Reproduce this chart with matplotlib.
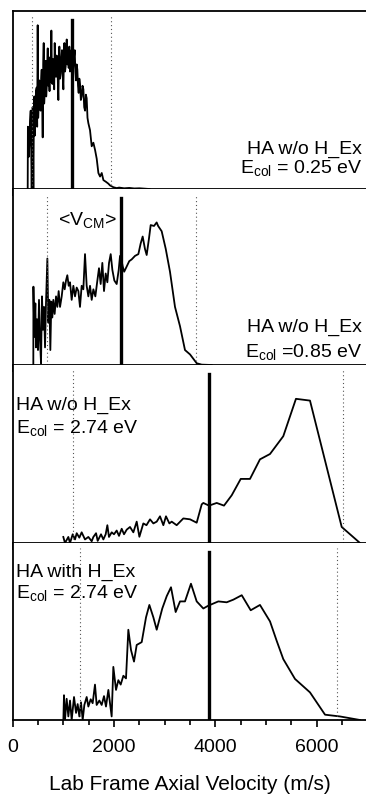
import matplotlib
matplotlib.use("Agg")
from matplotlib import pyplot as plt

plt.rcParams['font.family'] = ['Liberation Sans', 'DejaVu Sans']
plt.rcParams['mathtext.fontset'] = 'custom'
plt.rcParams['mathtext.rm'] = 'Liberation Sans'
plt.rcParams['mathtext.it'] = 'Liberation Sans:italic'

# panel 1: HA w/o H_Ex, Ecol = 0.25 eV
v1 = [296, 300, 315, 329, 342, 355, 375, 385, 394, 408, 418, 427, 437, 447, 460, 473,
      483, 493, 503, 513, 526, 539, 552, 562, 572, 582, 592, 602, 612, 621, 631, 641,
      651, 661, 671, 681, 691, 704, 717, 727, 737, 750, 763, 773, 783, 796, 809, 819,
      829, 842, 855, 868, 881, 891, 901, 911, 921, 934, 947, 960, 973, 986, 1000,
      1010, 1020, 1033, 1046, 1056, 1066, 1079, 1092, 1105, 1118, 1131, 1145, 1158,
      1171, 1184, 1197, 1210, 1224, 1237, 1250, 1263, 1276, 1289, 1302, 1315, 1329,
      1345, 1362, 1378, 1395, 1411, 1428, 1444, 1460, 1476, 1493, 1526, 1559, 1592,
      1625, 1658, 1691, 1724, 1757, 1790, 1842, 1888, 1921, 1987, 2053, 2100, 2200,
      2300, 2400, 2500, 2600, 2700]
i1 = [0.0, 0.35, 0.18, 0.25, 0.38, 0.44, 0.0, 0.30, 0.46, 0.0, 0.40, 0.52, 0.30, 0.39,
      0.55, 0.57, 0.35, 0.92, 0.40, 0.48, 0.61, 0.45, 0.44, 0.62, 0.67, 0.50, 0.29,
      0.70, 0.82, 0.48, 0.54, 0.66, 0.72, 0.52, 0.57, 0.70, 0.79, 0.58, 0.63, 0.55,
      0.74, 0.60, 0.89, 0.66, 0.59, 0.73, 0.69, 0.56, 0.82, 0.65, 0.63, 0.75, 0.72,
      0.60, 0.50, 0.70, 0.80, 0.62, 0.65, 0.74, 0.78, 0.64, 0.56, 0.72, 0.82, 0.66,
      0.69, 0.77, 0.84, 0.70, 0.76, 0.68, 0.80, 0.66, 0.72, 0.78, 0.75, 0.64, 0.69,
      0.74, 0.78, 0.66, 0.61, 0.70, 0.67, 0.58, 0.54, 0.62, 0.59, 0.50, 0.52, 0.58,
      0.56, 0.46, 0.44, 0.53, 0.51, 0.40, 0.37, 0.33, 0.24, 0.26, 0.22, 0.17, 0.09,
      0.07, 0.09, 0.05, 0.04, 0.03, 0.02, 0.01, 0.005, 0.008, 0.004, 0.006, 0.003,
      0.004, 0.002, 0.0]

# panel 2: HA w/o H_Ex, Ecol = 0.85 eV
v2 = [407, 409, 427, 447, 460, 480, 499, 519, 539, 559, 578, 598, 618, 638, 657, 684,
      703, 723, 743, 762, 782, 802, 828, 855, 881, 907, 934, 967, 999, 1026, 1052,
      1078, 1105, 1131, 1164, 1197, 1230, 1263, 1296, 1328, 1361, 1394, 1427, 1460,
      1493, 1526, 1559, 1592, 1631, 1671, 1703, 1736, 1769, 1802, 1835, 1868, 1901,
      1934, 1967, 2006, 2052, 2092, 2118, 2151, 2171, 2200, 2250, 2300, 2348, 2414,
      2480, 2525, 2565, 2610, 2644, 2690, 2723, 2789, 2841, 2870, 2940, 3020, 3104,
      3203, 3302, 3400, 3500, 3631, 3730, 3927]
i2 = [0.0, 0.445, 0.16, 0.35, 0.10, 0.26, 0.085, 0.37, 0.14, 0.01, 0.39, 0.20, 0.33,
      0.10, 0.35, 0.605, 0.24, 0.37, 0.085, 0.36, 0.27, 0.37, 0.29, 0.39, 0.33, 0.42,
      0.33, 0.39, 0.47, 0.43, 0.48, 0.51, 0.45, 0.47, 0.37, 0.45, 0.39, 0.44, 0.42,
      0.33, 0.45, 0.43, 0.63, 0.45, 0.39, 0.45, 0.37, 0.43, 0.39, 0.48, 0.55, 0.46,
      0.58, 0.42, 0.52, 0.47, 0.58, 0.63, 0.54, 0.48, 0.46, 0.54, 0.62, 0.59, 0.56,
      0.53, 0.56, 0.59, 0.60, 0.62, 0.63, 0.69, 0.73, 0.66, 0.625, 0.72, 0.795, 0.79,
      0.81, 0.79, 0.76, 0.66, 0.53, 0.33, 0.22, 0.085, 0.06, 0.01, 0.002, 0.0]

# panel 3: HA w/o H_Ex, Ecol = 2.74 eV
v3 = [999, 1032, 1098, 1131, 1184, 1230, 1263, 1315, 1361, 1427, 1493, 1559, 1592,
      1645, 1677, 1743, 1789, 1835, 1868, 1900, 1954, 1999, 2052, 2098, 2151, 2197,
      2250, 2315, 2381, 2447, 2500, 2578, 2640, 2710, 2776, 2842, 2907, 2973, 3025,
      3092, 3138, 3236, 3367, 3500, 3631, 3730, 3762, 3874, 4026, 4170, 4322, 4500,
      4683, 4880, 5078, 5340, 5590, 5867, 6493, 6854]
i3 = [0.034, 0.0, 0.034, 0.0, 0.049, 0.02, 0.055, 0.03, 0.06, 0.02, 0.034, 0.01,
      0.034, 0.055, 0.012, 0.049, 0.02, 0.049, 0.10, 0.034, 0.06, 0.049, 0.07, 0.04,
      0.08, 0.049, 0.075, 0.09, 0.06, 0.12, 0.035, 0.11, 0.10, 0.133, 0.11, 0.12,
      0.15, 0.10, 0.15, 0.11, 0.12, 0.10, 0.138, 0.133, 0.114, 0.217, 0.225, 0.21,
      0.225, 0.21, 0.268, 0.36, 0.36, 0.47, 0.50, 0.60, 0.81, 0.80, 0.09, 0.0]

# panel 4: HA with H_Ex, Ecol = 2.74 eV
v4 = [1000, 1012, 1032, 1065, 1098, 1131, 1164, 1210, 1250, 1282, 1315, 1348, 1381,
      1414, 1460, 1493, 1539, 1578, 1624, 1657, 1710, 1756, 1802, 1841, 1888, 1920,
      1953, 1986, 2039, 2085, 2131, 2184, 2236, 2282, 2335, 2394, 2447, 2546, 2631,
      2697, 2776, 2842, 2952, 3040, 3124, 3216, 3302, 3400, 3518, 3631, 3762, 3861,
      4058, 4223, 4355, 4520, 4697, 4880, 5078, 5210, 5340, 5571, 5867, 6164, 6460,
      6854]
i4 = [0.0, 0.14, 0.0, 0.12, 0.02, 0.11, 0.0, 0.13, 0.04, 0.09, 0.02, 0.10, 0.0,
      0.085, 0.13, 0.076, 0.117, 0.095, 0.20, 0.085, 0.11, 0.085, 0.135, 0.076, 0.17,
      0.095, 0.02, 0.30, 0.17, 0.225, 0.20, 0.25, 0.235, 0.51, 0.395, 0.33, 0.424,
      0.44, 0.58, 0.65, 0.58, 0.51, 0.63, 0.70, 0.75, 0.61, 0.67, 0.67, 0.77, 0.67,
      0.63, 0.646, 0.67, 0.665, 0.68, 0.705, 0.62, 0.65, 0.557, 0.447, 0.344, 0.232,
      0.156, 0.03, 0.02, 0.0]

velocities = [v1, v2, v3, v4]
intensities = [i1, i2, i3, i4]
vcm = [1164, 2137, 3874, 3868]
dotted = [(387, 1940), (671, 3618), (1196, 6525), (1334, 6394)]
line1 = ["HA w/o H_Ex", "HA w/o H_Ex", "HA w/o H_Ex", "HA with H_Ex"]
line2 = [r"E$_{\rm col}$ = 0.25 eV", r"E$_{\rm col}$ =0.85 eV",
         r"E$_{\rm col}$ = 2.74 eV", r"E$_{\rm col}$ = 2.74 eV"]

fig = plt.figure(figsize=(3.66, 8), dpi=100)
left = 12.7 / 366
width = 354.7 / 366
edges = [11, 189, 365, 543, 720]

for k in range(4):
    top = 1 - edges[k] / 800
    bot = 1 - edges[k + 1] / 800
    ax = fig.add_axes([left, bot, width, top - bot])
    ax.plot(velocities[k], intensities[k], color='black', lw=1.3)
    ax.axvline(vcm[k], ymax=0.95, color='black', lw=2.4)
    for d in dotted[k]:
        ax.axvline(d, ymax=0.97, color='#555555', lw=0.8, ls=(0, (1, 2.5)))
    ax.set_xlim(0, 7000)
    ax.set_ylim(0, 1)
    ax.set_yticks([])
    ax.set_xticks([0, 2000, 4000, 6000])
    ax.set_xticks(range(0, 7001, 500), minor=True)
    ax.tick_params(axis='x', which='major', direction='out', length=5, width=1.2)
    ax.tick_params(axis='x', which='minor', direction='out', length=3.5, width=1.2)
    ax.spines['right'].set_visible(False)
    if k > 0:
        ax.spines['top'].set_visible(False)
    for s in ax.spines.values():
        s.set_linewidth(1.3)
    if k < 3:
        ax.set_xticklabels([])
    else:
        ax.tick_params(axis='x', labelsize=14, pad=9)
        ax.set_xlabel("Lab Frame Axial Velocity (m/s)", fontsize=15, labelpad=13)

    if k < 2:
        ys = [0.2, 0.09] if k == 0 else [0.19, 0.045]
        ax.text(0.985, ys[0], line1[k], transform=ax.transAxes, ha='right',
                va='baseline', fontsize=14)
        ax.text(0.985, ys[1], line2[k], transform=ax.transAxes, ha='right',
                va='baseline', fontsize=14)
    else:
        ys = [0.75, 0.62] if k == 2 else [0.81, 0.69]
        ax.text(0.01, ys[0], line1[k], transform=ax.transAxes, ha='left',
                va='baseline', fontsize=14)
        ax.text(0.01, ys[1], line2[k], transform=ax.transAxes, ha='left',
                va='baseline', fontsize=14)
    if k == 1:
        ax.text(0.294, 0.795, r"<V$_{\rm CM}$>", transform=ax.transAxes,
                ha='right', va='baseline', fontsize=14)

fig.savefig("out.png", dpi=100)
